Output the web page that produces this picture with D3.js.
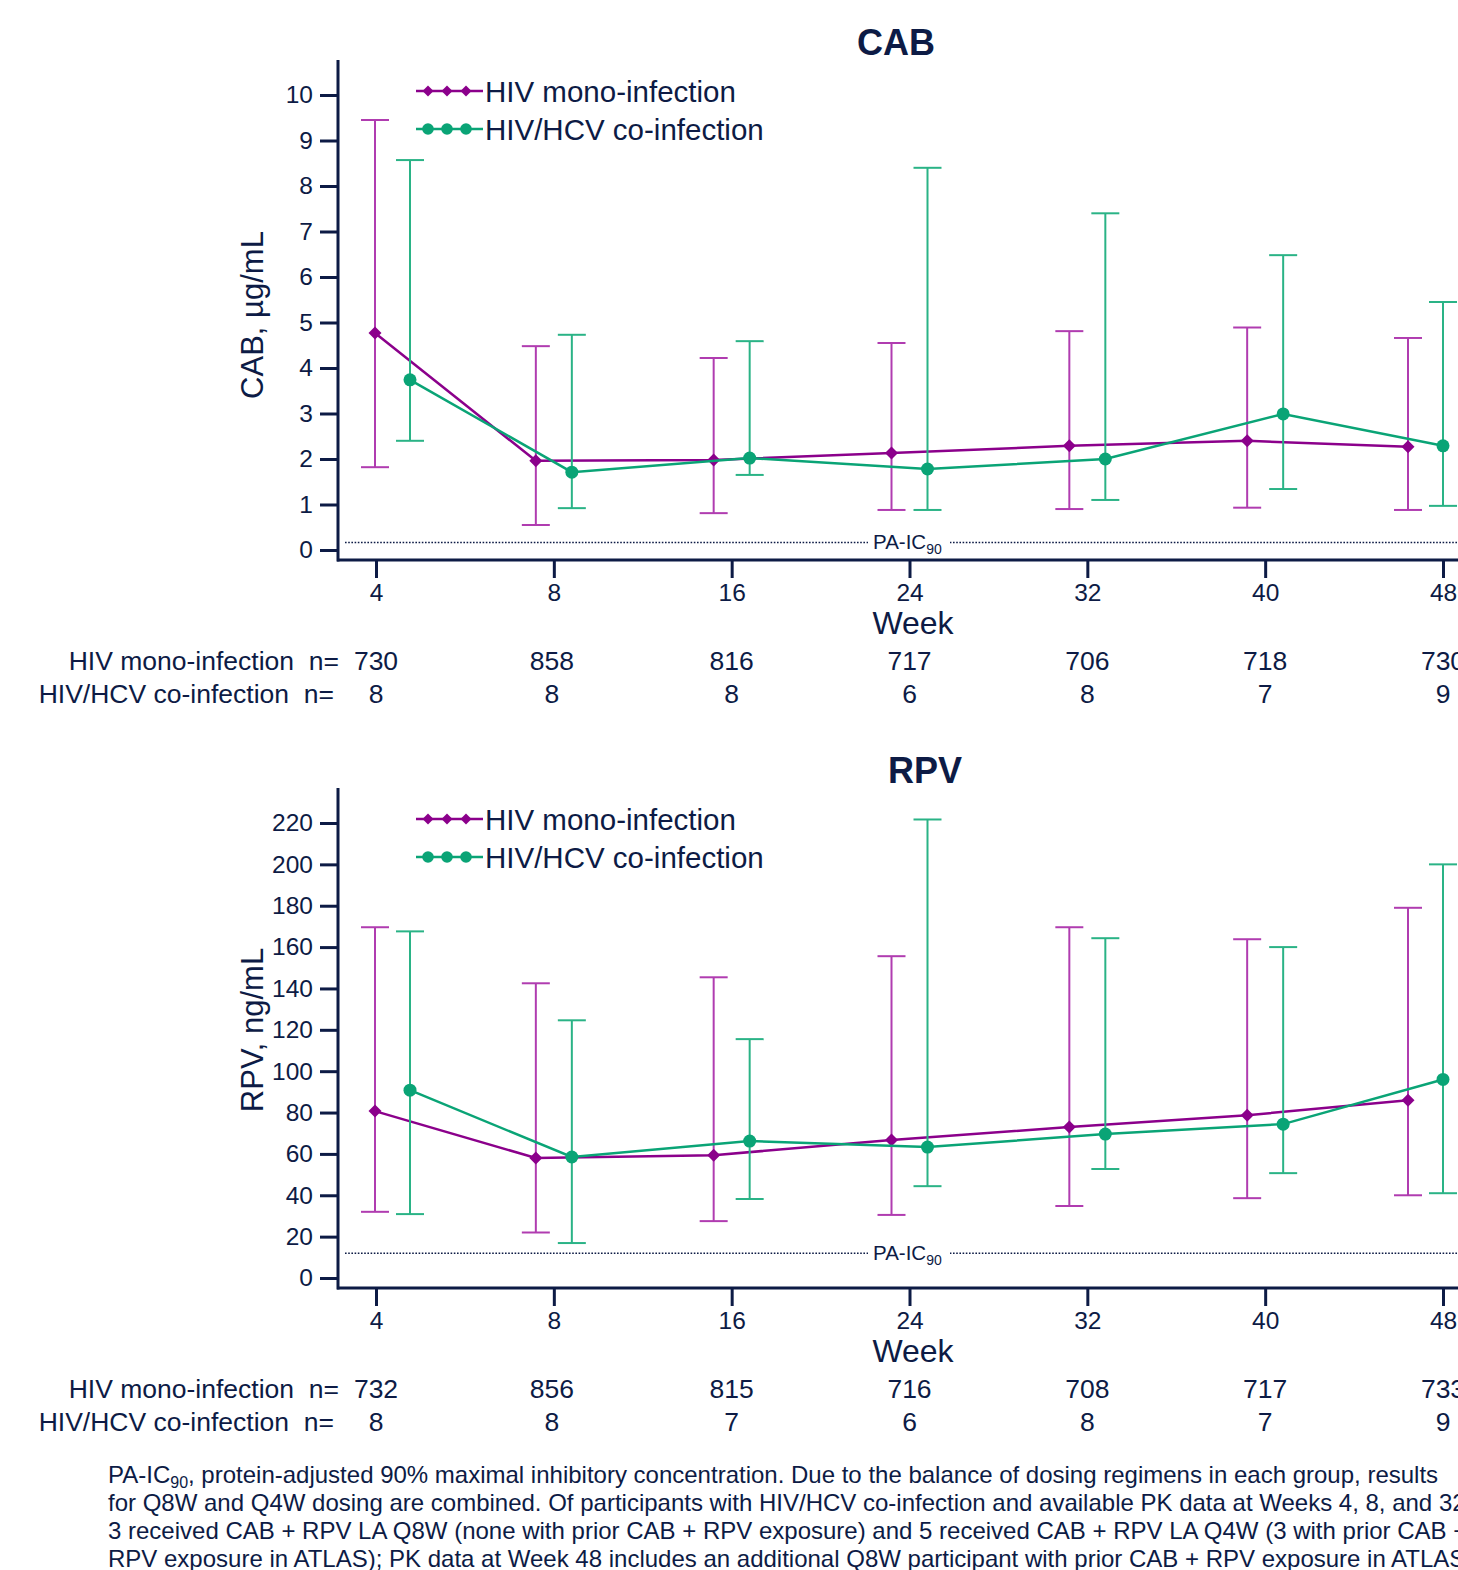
<!DOCTYPE html>
<html>
<head>
<meta charset="utf-8">
<script src="https://cdn.jsdelivr.net/npm/d3@7"></script>
<style>
  body { margin: 0; background: #fff; overflow: hidden; }
  svg { display: block; font-family: "Liberation Sans", Arial, sans-serif; }
</style>
</head>
<body>
<svg id="main" width="1458" height="1570"></svg>
<script>
"use strict";

// data
const weeks = ["4", "8", "16", "24", "32", "40", "48"];

const cabMono   = [4.77, 1.96, 1.98, 2.13, 2.29, 2.40, 2.27];
const cabMonoLo = [1.82, 0.55, 0.81, 0.88, 0.90, 0.93, 0.88];
const cabMonoHi = [9.45, 4.48, 4.22, 4.55, 4.81, 4.89, 4.66];
const cabCo     = [3.74, 1.71, 2.02, 1.78, 2.00, 2.99, 2.29];
const cabCoLo   = [2.40, 0.92, 1.65, 0.88, 1.10, 1.34, 0.97];
const cabCoHi   = [8.57, 4.73, 4.59, 8.40, 7.40, 6.48, 5.45];
const cabMonoN  = [730, 858, 816, 717, 706, 718, 730];
const cabCoN    = [8, 8, 8, 6, 8, 7, 9];
const cabTicks  = [0, 1, 2, 3, 4, 5, 6, 7, 8, 9, 10];
const cabIC90   = 0.166;

const rpvMono   = [80.7, 58.0, 59.4, 66.7, 73.0, 78.7, 86.0];
const rpvMonoLo = [32.0, 22.0, 27.5, 30.5, 34.8, 38.6, 40.0];
const rpvMonoHi = [169.6, 142.5, 145.4, 155.6, 169.6, 163.8, 179.0];
const rpvCo     = [90.8, 58.5, 66.2, 63.3, 69.6, 74.4, 96.0];
const rpvCoLo   = [30.9, 16.9, 38.2, 44.4, 52.7, 50.7, 41.0];
const rpvCoHi   = [167.6, 124.6, 115.5, 221.7, 164.3, 160.0, 200.0];
const rpvMonoN  = [732, 856, 815, 716, 708, 717, 733];
const rpvCoN    = [8, 8, 7, 6, 8, 7, 9];
const rpvTicks  = [0, 20, 40, 60, 80, 100, 120, 140, 160, 180, 200, 220];
const rpvIC90   = 12;

const seriesNames = ["HIV mono-infection", "HIV/HCV co-infection"];

const footnote = [
  ["PA-IC", "90", ", protein-adjusted 90% maximal inhibitory concentration. Due to the balance of dosing regimens in each group, results"],
  ["for Q8W and Q4W dosing are combined. Of participants with HIV/HCV co-infection and available PK data at Weeks 4, 8, and 32,"],
  ["3 received CAB + RPV LA Q8W (none with prior CAB + RPV exposure) and 5 received CAB + RPV LA Q4W (3 with prior CAB +"],
  ["RPV exposure in ATLAS); PK data at Week 48 includes an additional Q8W participant with prior CAB + RPV exposure in ATLAS."]
];

// styles
const navy = "#0d1b45";
const monoColor = "#8b008b";
const monoBar = "#b03cb0";
const coColor = "#0aa476";
const coBar = "#2ab386";

const svg = d3.select("#main");

const x = d3.scalePoint().domain(weeks).range([376, 1443]);

// side-by-side dodge: first week only co moves, last week only mono moves
const dodge = (i, group) => {
  const last = weeks.length - 1;
  if (group === 0) return i === 0 ? -1 : (i === last ? -35 : -18);
  return i === 0 ? 34 : (i === last ? 0 : 18);
};

const diamond = (g, cx, cy, r, color) => {
  g.append("path")
    .attr("d", `M${cx},${cy - r}L${cx + r},${cy}L${cx},${cy + r}L${cx - r},${cy}Z`)
    .attr("fill", color);
};

const drawPanel = (p) => {
  const off = p.off;
  const y = d3.scaleLinear().domain([0, p.yMax]).range([550 + off, 95 + off]);
  const g = svg.append("g");

  // title
  g.append("text")
    .attr("x", p.titleX).attr("y", 55 + off)
    .attr("text-anchor", "middle")
    .attr("font-size", 36).attr("font-weight", "bold")
    .attr("fill", navy)
    .text(p.title);

  // y axis
  const yAxis = g.append("g")
    .attr("transform", `translate(338,0)`)
    .call(d3.axisLeft(y).tickValues(p.ticks).tickSize(18).tickPadding(7).tickFormat(d3.format("d")));
  yAxis.select(".domain").remove();
  yAxis.selectAll(".tick line").attr("stroke", navy).attr("stroke-width", 3);
  yAxis.selectAll(".tick text").attr("fill", navy).attr("font-size", 24.5)
    .attr("font-family", "Liberation Sans, Arial, sans-serif");
  g.append("line")
    .attr("x1", 338).attr("x2", 338)
    .attr("y1", 60 + off).attr("y2", 561.5 + off)
    .attr("stroke", navy).attr("stroke-width", 3);

  // x axis
  const xAxis = g.append("g")
    .attr("transform", `translate(0,${560 + off})`)
    .call(d3.axisBottom(x).tickSize(18).tickPadding(6));
  xAxis.select(".domain").remove();
  xAxis.selectAll(".tick line").attr("stroke", navy).attr("stroke-width", 3);
  xAxis.selectAll(".tick text").attr("fill", navy).attr("font-size", 24.5)
    .attr("font-family", "Liberation Sans, Arial, sans-serif");
  g.append("line")
    .attr("x1", 337).attr("x2", 1500)
    .attr("y1", 560 + off).attr("y2", 560 + off)
    .attr("stroke", navy).attr("stroke-width", 3);

  g.append("text")
    .attr("x", 913).attr("y", 634 + off)
    .attr("text-anchor", "middle")
    .attr("font-size", 32).attr("fill", navy)
    .text("Week");

  // y label
  g.append("text")
    .attr("transform", `translate(263,${p.yLabelY + off}) rotate(-90)`)
    .attr("text-anchor", "middle")
    .attr("font-size", 31).attr("fill", navy)
    .text(p.yLabel);

  // PA-IC90 reference line
  const icY = y(p.ic90);
  g.append("line")
    .attr("x1", 345).attr("x2", 1500)
    .attr("y1", icY).attr("y2", icY)
    .attr("stroke", navy).attr("stroke-width", 1.6)
    .attr("stroke-dasharray", "1.6,1.6");
  g.append("rect")
    .attr("x", 868).attr("y", icY - 14).attr("width", 82).attr("height", 28)
    .attr("fill", "#fff");
  const ic = g.append("text")
    .attr("x", 873).attr("y", icY + 7)
    .attr("font-size", 20.5).attr("fill", navy);
  ic.append("tspan").text("PA-IC");
  ic.append("tspan").attr("font-size", 14).attr("dy", 5).text("90");

  // series
  const series = [
    { mid: p.mono, lo: p.monoLo, hi: p.monoHi, color: monoColor, bar: monoBar, shape: "diamond" },
    { mid: p.co, lo: p.coLo, hi: p.coHi, color: coColor, bar: coBar, shape: "circle" }
  ];

  series.forEach((s, k) => {
    const pts = weeks.map((w, i) => ({
      x: x(w) + dodge(i, k), y: y(s.mid[i]), lo: y(s.lo[i]), hi: y(s.hi[i])
    }));

    // error bars
    pts.forEach((d) => {
      g.append("line")
        .attr("x1", d.x).attr("x2", d.x).attr("y1", d.hi).attr("y2", d.lo)
        .attr("stroke", s.bar).attr("stroke-width", 2);
      [d.hi, d.lo].forEach((cy) => {
        g.append("line")
          .attr("x1", d.x - 14).attr("x2", d.x + 14).attr("y1", cy).attr("y2", cy)
          .attr("stroke", s.bar).attr("stroke-width", 2);
      });
    });

    g.append("path")
      .datum(pts)
      .attr("d", d3.line().x((d) => d.x).y((d) => d.y))
      .attr("fill", "none")
      .attr("stroke", s.color).attr("stroke-width", 2.5);

    pts.forEach((d) => {
      if (s.shape === "diamond") diamond(g, d.x, d.y, 6.5, s.color);
      else g.append("circle").attr("cx", d.x).attr("cy", d.y).attr("r", 6.5).attr("fill", s.color);
    });

    // legend
    const ly = (k === 0 ? 91 : 129) + off;
    g.append("line")
      .attr("x1", 416).attr("x2", 483).attr("y1", ly).attr("y2", ly)
      .attr("stroke", s.color).attr("stroke-width", 2.5);
    [428, 447, 466].forEach((lx) => {
      if (s.shape === "diamond") diamond(g, lx, ly, 5.5, s.color);
      else g.append("circle").attr("cx", lx).attr("cy", ly).attr("r", 5.8).attr("fill", s.color);
    });
    g.append("text")
      .attr("x", 485).attr("y", ly + 10.5)
      .attr("font-size", 29.5).attr("fill", navy)
      .text(seriesNames[k]);
  });

  // n rows
  const rows = [[p.monoN, 661], [p.coN, 694]];
  rows.forEach(([vals, ry], k) => {
    g.append("text")
      .attr("x", k === 0 ? 339 : 334).attr("y", ry + 9 + off)
      .attr("text-anchor", "end")
      .attr("font-size", 26.5).attr("fill", navy)
      .attr("xml:space", "preserve")
      .text(seriesNames[k] + "  n=");
    weeks.forEach((w, i) => {
      g.append("text")
        .attr("x", x(w) + (i === 1 ? -2 : 0)).attr("y", ry + 9 + off)
        .attr("text-anchor", "middle")
        .attr("font-size", 26.5).attr("fill", navy)
        .text(vals[i]);
    });
  });
};

drawPanel({
  off: 0, title: "CAB", titleX: 896, yMax: 10, ticks: cabTicks,
  yLabel: "CAB, µg/mL", yLabelY: 315, ic90: cabIC90,
  mono: cabMono, monoLo: cabMonoLo, monoHi: cabMonoHi,
  co: cabCo, coLo: cabCoLo, coHi: cabCoHi,
  monoN: cabMonoN, coN: cabCoN
});

drawPanel({
  off: 728, title: "RPV", titleX: 925, yMax: 220, ticks: rpvTicks,
  yLabel: "RPV, ng/mL", yLabelY: 302, ic90: rpvIC90,
  mono: rpvMono, monoLo: rpvMonoLo, monoHi: rpvMonoHi,
  co: rpvCo, coLo: rpvCoLo, coHi: rpvCoHi,
  monoN: rpvMonoN, coN: rpvCoN
});

// footnote
const foot = svg.append("g");
footnote.forEach((parts, i) => {
  const t = foot.append("text")
    .attr("x", 108).attr("y", 1483 + i * 28)
    .attr("font-size", 24).attr("fill", navy);
  if (parts.length === 3) {
    t.append("tspan").text(parts[0]);
    t.append("tspan").attr("font-size", 16).attr("dy", 5).text(parts[1]);
    t.append("tspan").attr("dy", -5).text(parts[2]);
  } else {
    t.text(parts[0]);
  }
});
</script>
</body>
</html>
